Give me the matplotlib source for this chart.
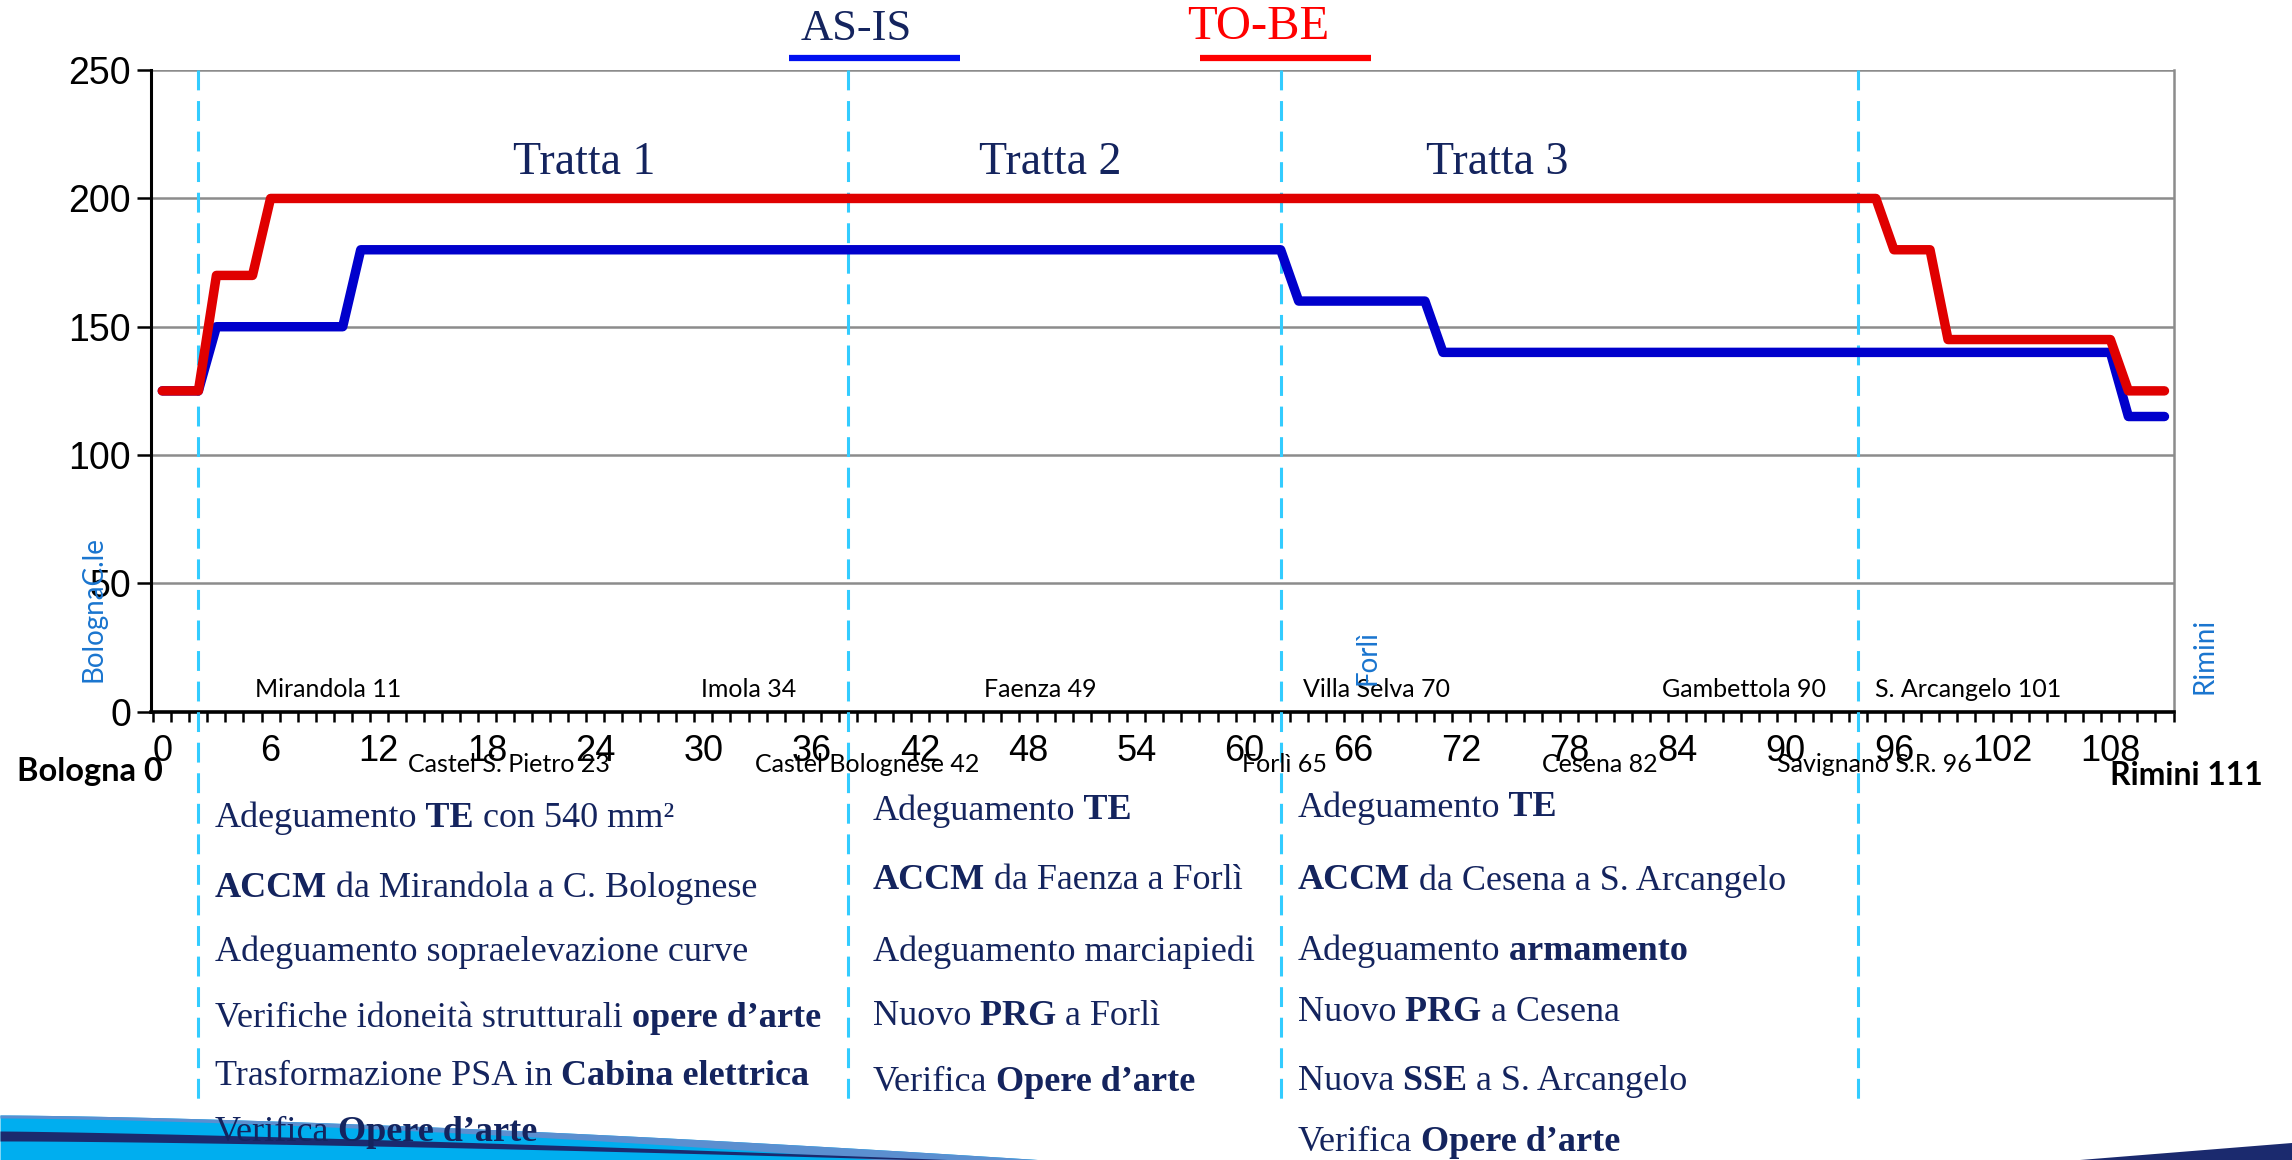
import re

import matplotlib
matplotlib.use("Agg")
import matplotlib.pyplot as plt
import matplotlib.transforms as mtransforms
import numpy as np

# speed profile along the line (km, km/h)
asis_km = [0, 2, 3, 10, 11, 62, 63, 70, 71, 108, 109, 111]
asis_speed = [125, 125, 150, 150, 180, 180, 160, 160, 140, 140, 115, 115]
tobe_km = [0, 2, 3, 5, 6, 95, 96, 98, 99, 108, 109, 111]
tobe_speed = [125, 125, 170, 170, 200, 200, 180, 180, 145, 145, 125, 125]

# section boundaries and titles
section_km = [2, 38, 62, 94]
section_titles = ["Tratta 1", "Tratta 2", "Tratta 3"]
section_title_km = [23.4, 49.2, 74.0]

x_ticks = list(range(0, 109, 6))
y_ticks = [0, 50, 100, 150, 200, 250]

# stations written inside / under the axis
upper_stations = ["Mirandola 11", "Imola 34", "Faenza 49", "Villa Selva 70",
                  "Gambettola 90", "S. Arcangelo 101"]
upper_station_km = [9.2, 32.5, 48.7, 67.3, 87.7, 100.1]
lower_stations = ["Castel S. Pietro 23", "Castel Bolognese 42", "Forlì 65",
                  "Cesena 82", "Savignano S.R. 96"]
lower_station_km = [19.2, 39.1, 62.2, 79.7, 94.9]
end_stations = ["Bologna 0", "Rimini 111"]
end_station_km = [-4.0, 112.2]
nodes = ["BolognaC.le", "Forlì", "Rimini"]
node_km = [-3.8, 66.8, 113.2]
node_y = [40, 21, 21.5]

# interventions per section (** marks bold)
col1 = ["Adeguamento **TE** con 540 mm²",
        "**ACCM** da Mirandola a C. Bolognese",
        "Adeguamento sopraelevazione curve",
        "Verifiche idoneità strutturali **opere d’arte**",
        "Trasformazione PSA in **Cabina elettrica**",
        "Verifica **Opere d’arte**"]
col2 = ["Adeguamento **TE**",
        "**ACCM** da Faenza a Forlì",
        "Adeguamento marciapiedi",
        "Nuovo **PRG** a Forlì",
        "Verifica **Opere d’arte**"]
col3 = ["Adeguamento **TE**",
        "**ACCM** da Cesena a S. Arcangelo",
        "Adeguamento **armamento**",
        "Nuovo **PRG** a Cesena",
        "Nuova **SSE** a S. Arcangelo",
        "Verifica **Opere d’arte**"]

NAVY = "#14245e"
BLUE = "#0000cc"
RED = "#e00000"
CYAN = "#33ccff"
NODE = "#1a75cf"
SERIF = "Liberation Serif"
SANS = "Liberation Sans"
CAL = "Lato"

fig = plt.figure(figsize=(22.92, 11.6), dpi=100)

# background layer for decoration and the text blocks
bg = fig.add_axes([0, 0, 1, 1], zorder=0)
bg.set_xlim(0, 2292)
bg.set_ylim(1160, 0)
bg.axis("off")

xs = np.linspace(0, 1045, 200)
top = 1115 + 45 * (xs / 1045) ** 1.5
bg.fill_between(xs, top, 1160, color="#00aeef", lw=0)
bg.fill_between(xs, top, np.minimum(top + 3 + 10 * (xs / 1045) ** 2, 1160),
                color="#5b8fd0", lw=0)
xn = np.linspace(0, 960, 200)
ntop = 1131 + 29 * (xn / 960) ** 1.3
bg.fill_between(xn, ntop, np.minimum(ntop + 9 * (1 - xn / 960) + 1, 1160),
                color="#1b2a6e", lw=0)
bg.fill([2080, 2292, 2292], [1160, 1143, 1160], color="#1b2a6e", lw=0)

ax = fig.add_axes([0.0657, 0.3866, 0.8826, 0.5529], zorder=2)
ax.patch.set_alpha(0)

ax.plot(asis_km, asis_speed, color=BLUE, lw=6.8, solid_capstyle="round", zorder=4)
ax.plot(tobe_km, tobe_speed, color=RED, lw=6.8, solid_capstyle="round", zorder=5)

ax.set_xlim(-0.65, 111.5)
ax.set_ylim(0, 250)
ax.set_yticks(y_ticks)
ax.set_yticklabels([str(v) for v in y_ticks], fontsize=27, family=SANS)
ax.set_xticks(x_ticks)
ax.set_xticklabels([str(v) for v in x_ticks], fontsize=26, family=SANS)
ax.set_xticks(np.arange(-0.5, 111.6, 1), minor=True)
ax.tick_params(axis="x", which="major", length=0, pad=16)
ax.tick_params(axis="x", which="minor", length=7, width=1.8, direction="out")
ax.tick_params(axis="y", length=10, width=1.8, direction="out", pad=4)
ax.grid(axis="y", color="#8c8c8c", lw=1.8, zorder=1)
ax.set_axisbelow(True)
ax.spines["top"].set_visible(False)
ax.spines["right"].set_color("#8c8c8c")
ax.spines["right"].set_linewidth(1.8)
ax.spines["left"].set_linewidth(2.2)
ax.spines["bottom"].set_linewidth(2.6)

# section boundaries run down into the text area
trans = mtransforms.blended_transform_factory(ax.transData, ax.transAxes)
for km in section_km:
    ax.plot([km, km], [1.0, -0.617], transform=trans, color=CYAN, lw=2.2,
            dashes=(6.5, 3.5), clip_on=False, zorder=3)

for title, km in zip(section_titles, section_title_km):
    ax.text(km, 214, title, ha="center", va="center", fontsize=33,
            family=SERIF, color=NAVY)

for name, km in zip(upper_stations, upper_station_km):
    ax.text(km, 8.5, name, ha="center", va="center", fontsize=18,
            family=CAL, color="black")
for name, km in zip(lower_stations, lower_station_km):
    ax.text(km, -0.082, name, transform=trans, ha="center", va="center",
            fontsize=18, family=CAL, color="black")
ax.text(end_station_km[0], -0.093, end_stations[0], transform=trans,
        ha="center", va="center", fontsize=23.5, weight="bold", family=CAL)
ax.text(end_station_km[1], -0.1, end_stations[1], transform=trans,
        ha="center", va="center", fontsize=23, weight="bold", family=CAL)
for name, km, y in zip(nodes, node_km, node_y):
    ax.text(km, y, name, rotation=90, ha="center", va="center", fontsize=20,
            family=CAL, color=NODE, clip_on=False)

# legend drawn as titles with a bar underneath
fig.text(0.3737, 0.9748, "AS-IS", ha="center", va="center", fontsize=32,
         family=SERIF, color=NAVY)
fig.text(0.5491, 0.9770, "TO-BE", ha="center", va="center", fontsize=35,
         family=SERIF, color="#ff0000")
bg.plot([789, 960], [58, 58], color="#0010f0", lw=4.5, solid_capstyle="butt")
bg.plot([1200, 1371], [58, 58], color="#ff0000", lw=4.5, solid_capstyle="butt")


def rich_line(x, y, line, size=26):
    prev = None
    for part in re.split(r"(\*\*.*?\*\*)", line):
        if not part:
            continue
        bold = part.startswith("**")
        s = part.strip("*")
        if prev is not None and not s.startswith(" "):
            s = " " + s
        kw = dict(fontsize=size, family=SERIF, color=NAVY, va="center",
                  ha="left", weight="bold" if bold else "normal", zorder=5)
        if prev is None:
            prev = fig.text(x, y, s.rstrip(), **kw)
        else:
            prev = bg.annotate(s.rstrip(), xy=(1, 0.5), xycoords=prev, **kw)


col_x = [0.0937, 0.3807, 0.5663]
col1_y = [0.2947, 0.2343, 0.1788, 0.1222, 0.0718, 0.0239]
col2_y = [0.3010, 0.2406, 0.1788, 0.1234, 0.0668]
col3_y = [0.3035, 0.2406, 0.1801, 0.1272, 0.0680, 0.0151]
for cx, lines, ys in zip(col_x, [col1, col2, col3], [col1_y, col2_y, col3_y]):
    for line, y in zip(lines, ys):
        rich_line(cx, y, line)

fig.savefig("out.png", dpi=100)
